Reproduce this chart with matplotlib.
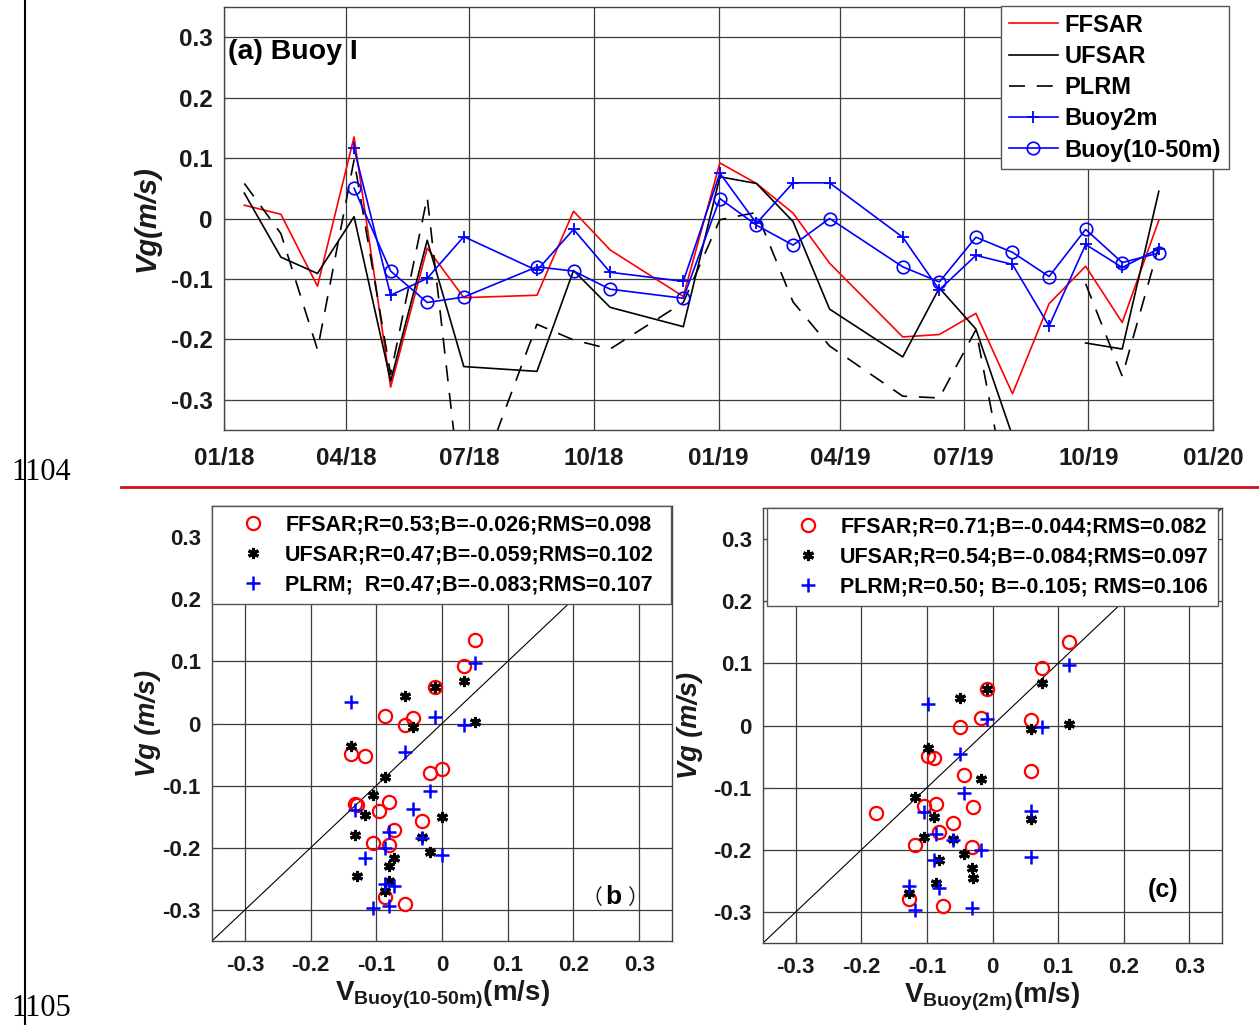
import numpy as np
import matplotlib
matplotlib.use('Agg')
import matplotlib.pyplot as plt
import matplotlib.dates as mdates
from matplotlib.lines import Line2D
import pandas as pd

plt.rcParams['font.family'] = ['Liberation Sans', 'DejaVu Sans']
plt.rcParams['font.weight'] = 'bold'
plt.rcParams['mathtext.fontset'] = 'custom'
plt.rcParams['mathtext.bf'] = 'Liberation Sans:bold'
plt.rcParams['mathtext.rm'] = 'Liberation Sans:bold'
plt.rcParams['mathtext.default'] = 'bf'
plt.rcParams['lines.scale_dashes'] = False

nan = np.nan
# ---------------- data ----------------
dates = ['2018-01-16', '2018-02-12', '2018-03-11', '2018-04-07', '2018-05-04',
         '2018-05-31', '2018-06-27', '2018-08-20', '2018-09-16', '2018-10-13',
         '2018-12-06', '2019-01-02', '2019-01-29', '2019-02-25', '2019-03-24',
         '2019-05-17', '2019-06-13', '2019-07-10', '2019-08-06', '2019-09-02',
         '2019-09-29', '2019-10-26', '2019-11-22']
ffsar = [0.022, 0.007, -0.112, 0.135, -0.279, -0.049, -0.131, -0.127, 0.012, -0.052,
         -0.129, 0.092, 0.058, 0.009, -0.074, -0.196, -0.192, -0.157, -0.290, -0.141,
         -0.079, -0.172, -0.003]
ufsar = [0.042, -0.064, -0.091, 0.003, -0.269, -0.036, -0.245, -0.253, -0.086, -0.147,
         -0.179, 0.069, 0.058, -0.005, -0.150, -0.229, -0.115, -0.183, -0.36, nan,
         -0.206, -0.216, 0.045]
plrm = [0.058, -0.025, -0.217, 0.097, -0.258, 0.035, -0.50, -0.175, -0.201, -0.216,
        -0.139, -0.002, 0.010, -0.138, -0.211, -0.294, -0.297, -0.184, -0.50, nan,
        -0.108, -0.261, -0.046]
buoy2m = [nan, nan, nan, 0.116, -0.127, -0.099, -0.030, -0.086, -0.018, -0.089,
          -0.104, 0.075, -0.008, 0.059, 0.059, -0.031, -0.118, -0.061, -0.076, -0.178,
          -0.043, -0.081, -0.050]
buoy50 = [nan, nan, nan, 0.050, -0.087, -0.139, -0.130, -0.080, -0.087, -0.117,
          -0.132, 0.033, -0.011, -0.044, 0.000, -0.080, -0.105, -0.031, -0.056, -0.096,
          -0.018, -0.073, -0.057]

series_labels = ['FFSAR', 'UFSAR', 'PLRM', 'Buoy2m', 'Buoy(10-50m)']
stats_b = ['FFSAR;R=0.53;B=-0.026;RMS=0.098',
           'UFSAR;R=0.47;B=-0.059;RMS=0.102',
           'PLRM;  R=0.47;B=-0.083;RMS=0.107']
stats_c = ['FFSAR;R=0.71;B=-0.044;RMS=0.082',
           'UFSAR;R=0.54;B=-0.084;RMS=0.097',
           'PLRM;R=0.50; B=-0.105; RMS=0.106']
time_ticks = pd.date_range('2018-01-01', '2020-01-01', freq='3MS')
val_ticks = [-0.3, -0.2, -0.1, 0, 0.1, 0.2, 0.3]
val_labels = ['-0.3', '-0.2', '-0.1', '0', '0.1', '0.2', '0.3']

t = pd.to_datetime(dates)
W, H = 1259, 1025
fig = plt.figure(figsize=(W / 100, H / 100), dpi=100)

GRID = '#3c3c3c'
TXT = '#1a1a1a'


def style(ax, lsize):
    ax.grid(True, color=GRID, lw=0.9)
    ax.set_axisbelow(True)
    for s in ax.spines.values():
        s.set_color('#444444')
        s.set_linewidth(1.0)
    ax.tick_params(direction='in', length=5, width=0.8, colors='#444444',
                   labelcolor=TXT, labelsize=lsize)
    for lab in ax.get_xticklabels() + ax.get_yticklabels():
        lab.set_fontweight('bold')


# ---------------- (a) time series ----------------
ax = fig.add_axes([224 / W, 1 - 430 / H, 989 / W, 423 / H])
ax.plot(t, ffsar, color='#ff0000', lw=1.2, label=series_labels[0])
ax.plot(t, ufsar, color='k', lw=1.2, label=series_labels[1])
ax.plot(t, plrm, color='k', lw=1.2, ls=(0, (11.5, 8.5)), label=series_labels[2])
ax.plot(t, buoy2m, color='#0000ff', lw=1.2, marker='+', ms=9, mew=1.3,
        label=series_labels[3])
ax.plot(t, buoy50, color='#0000ff', lw=1.2, marker='o', ms=9, mfc='none', mew=1.2,
        label=series_labels[4])
ax.set_xlim(time_ticks[0], time_ticks[-1])
ax.set_ylim(-0.35, 0.35)
ax.set_xticks(time_ticks)
ax.xaxis.set_major_formatter(mdates.DateFormatter('%m/%y'))
ax.set_yticks(val_ticks)
ax.set_yticklabels(val_labels)
style(ax, 17.5)
ax.tick_params(axis='x', pad=12.5)
ax.tick_params(axis='y', pad=8)
ax.set_ylabel('Vg(m/s)', fontsize=21, fontweight='bold', style='italic', color=TXT)
ax.yaxis.set_label_coords((161 - 224) / 989, 0.5)
ax.text(0.004, 0.275, '(a) Buoy I', transform=ax.get_yaxis_transform(),
        fontsize=20.5, fontweight='bold', va='center', ha='left', color='k')
leg = ax.legend(loc='upper left', bbox_to_anchor=(1001 / W, 1 - 6 / H),
                bbox_transform=fig.transFigure, fontsize=17.0, handlelength=2.1,
                handletextpad=0.28, borderpad=0.32, labelspacing=0.35,
                borderaxespad=0, fancybox=False, edgecolor='#555555', framealpha=1)
leg.get_frame().set_linewidth(1.0)


# ---------------- scatter panels ----------------
def scatter_panel(rect, xs, stats, xlab, ylab_x, leg_anchor, expand):
    a = fig.add_axes(rect)
    a.axline((0, 0), slope=1, color='k', lw=0.8, zorder=1)
    a.plot(xs, ffsar, ls='none', marker='o', mfc='none', mec='#ff0000', ms=9.5,
           mew=1.6, label=stats[0], zorder=3)
    a.plot(xs, ufsar, ls='none', marker=(6, 2, 0), color='k', ms=8, mew=2.2,
           label=stats[1], zorder=3)
    a.plot(xs, plrm, ls='none', marker='+', color='#0000ff', ms=9.5, mew=1.8,
           label=stats[2], zorder=3)
    a.set_xlim(-0.35, 0.35)
    a.set_ylim(-0.35, 0.35)
    a.set_xticks(val_ticks)
    a.set_yticks(val_ticks)
    a.set_xticklabels(val_labels)
    a.set_yticklabels(val_labels)
    style(a, 16)
    a.tick_params(axis='x', pad=10)
    a.tick_params(axis='y', pad=8)
    a.set_ylabel('Vg (m/s)', fontsize=19.5, fontweight='bold', style='italic', color=TXT)
    a.yaxis.set_label_coords(ylab_x, 0.5)
    a.set_xlabel(xlab, fontsize=20, color=TXT)
    a.xaxis.set_label_coords(0.5, -0.087)
    lg = a.legend(loc='upper left', bbox_to_anchor=leg_anchor, fontsize=15.5,
                  handlelength=3.0, handletextpad=0.0, borderpad=0.4,
                  labelspacing=0.42, borderaxespad=0, fancybox=False,
                  mode='expand' if expand else None,
                  edgecolor='#555555', framealpha=1)
    lg.get_frame().set_linewidth(1.0)
    lg.set_zorder(5)
    return a


axb = scatter_panel([212 / W, 1 - 941 / H, 460 / W, 435 / H], buoy50, stats_b,
                    r'$\mathbf{V}_{\mathbf{Buoy(10‐50m)}}\mathbf{(m/s)}$',
                    (161 - 212) / 460, (0.0, 1.0, 0.998, 0.0), True)
axc = scatter_panel([763 / W, 1 - 943 / H, 459 / W, 435 / H], buoy2m, stats_c,
                    r'$\mathbf{V}_{\mathbf{Buoy(2m)}}\mathbf{(m/s)}$',
                    (703 - 763) / 459, (4 / 459, 1.0), False)

# panel tags
fig.text(592 / W, 1 - 898 / H, '（', family=['Noto Sans CJK SC'], fontsize=15,
         fontweight='normal', ha='center', va='center', color=TXT)
fig.text(613 / W, 1 - 897 / H, 'b', fontsize=19, fontweight='bold', ha='center',
         va='center', color='k')
fig.text(637 / W, 1 - 898 / H, '）', family=['Noto Sans CJK SC'], fontsize=15,
         fontweight='normal', ha='center', va='center', color=TXT)
fig.text(1163 / W, 1 - 890 / H, '(c)', fontsize=18, fontweight='bold', ha='center',
         va='center', color='k')

# page artefacts
fig.add_artist(Line2D([25 / W, 25 / W], [0, 1], color='k', lw=1.5,
                      transform=fig.transFigure))
fig.add_artist(Line2D([121 / W, 1], [1 - 487 / H, 1 - 487 / H], color='#d0101e',
                      lw=2.0, transform=fig.transFigure))
fig.text(11 / W, 1 - 472 / H, '1104', family=['Liberation Serif'], fontsize=22,
         fontweight='normal', va='center', ha='left', color='k')
fig.text(11 / W, 1 - 1009 / H, '1105', family=['Liberation Serif'], fontsize=22,
         fontweight='normal', va='center', ha='left', color='k')

fig.savefig('out.png', dpi=100)
